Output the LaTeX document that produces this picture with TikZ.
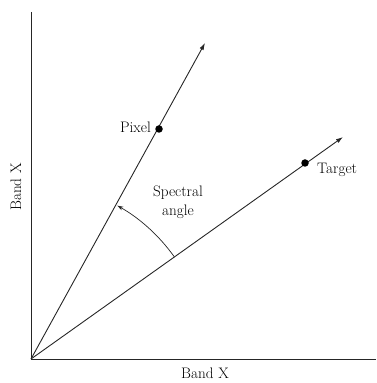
\documentclass[tikz,border=0pt]{standalone}
\usetikzlibrary{arrows.meta,calc}
\begin{document}
\begin{tikzpicture}[x=1pt,y=1pt,
  axis/.style={line width=0.9pt,black!85},
  vec/.style={line width=0.9pt,black!85,-{Latex[length=7pt,width=4.5pt]}},
  dot/.style={circle,fill=black,inner sep=0pt,minimum size=7.5pt},
  lbl/.style={font=\fontsize{15.2}{19}\selectfont,inner sep=1pt}]
\useasboundingbox (0,0) rectangle (376,383);
\coordinate (O) at (31,24);
\coordinate (Ytop) at (31,371);
\coordinate (Xend) at (376,24);
\coordinate (Pend) at (205,340);
\coordinate (Tend) at (343,246);
\draw[axis] (Ytop) -- (O) -- (Xend);
\draw[vec] (O) -- (Pend);
\draw[vec] (O) -- (Tend);
\node[dot] (pix) at (159,254) {};
\node[dot] (tgt) at (305,220) {};
\node[lbl,anchor=east] (pixl) at (152,256) {Pixel};
\node[lbl,anchor=west] (tgtl) at (316,213) {Target};
\node[lbl,align=center] (sa) at (178,181) {Spectral\\angle};
\node[lbl,anchor=south] (bx) at (205,3) {Band X};
\node[lbl,rotate=90] (by) at (16,196) {Band X};
\coordinate (As) at ($(O)+(35.4:176)$);
\draw[line width=0.7pt,black!85,-{Stealth[length=6pt,width=4pt]}] (As) arc[start angle=35.4,end angle=60.6,radius=176];
\end{tikzpicture}
\end{document}
